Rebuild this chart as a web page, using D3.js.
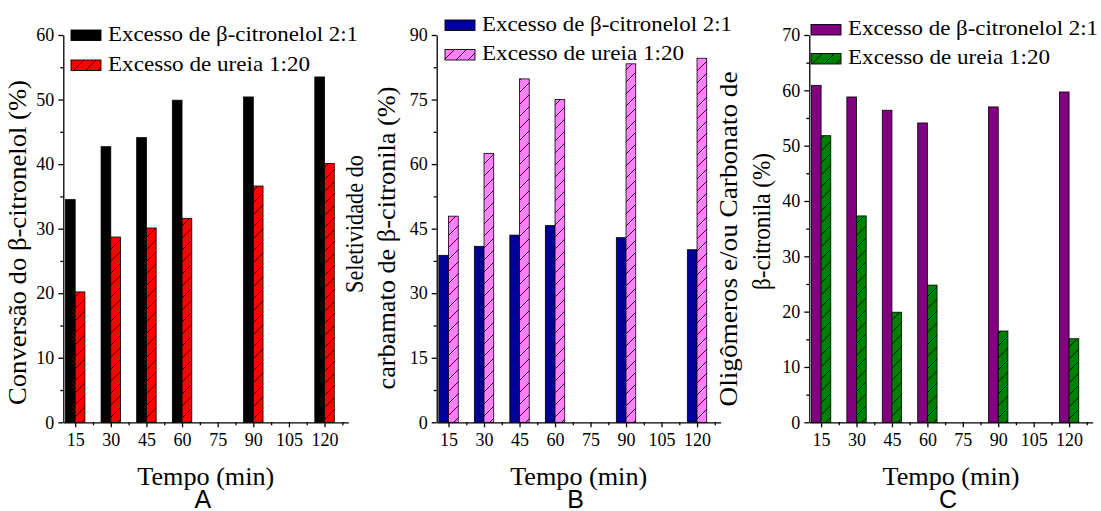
<!DOCTYPE html>
<html><head><meta charset="utf-8">
<script src="https://cdn.jsdelivr.net/npm/d3@7"></script>
<style>
body{margin:0;background:#fff;}
svg{display:block;}
text{font-family:"Liberation Serif","Times New Roman",serif;fill:#000;}
.axis path,.axis line{stroke:#000;stroke-width:1.3;}
.axis text{font-family:"Liberation Serif","Times New Roman",serif;font-size:18px;fill:#000;}
</style></head>
<body>
<svg id="chart" width="1101" height="511"></svg>
<script>
// ---- data ----
const times = [15, 30, 45, 60, 90, 120];
const xTickValues = [15, 30, 45, 60, 75, 90, 105, 120];
const seriesNames = ["Excesso de β-citronelol 2:1", "Excesso de ureia 1:20"];

const convCitronelol = [34.5, 42.7, 44.1, 49.9, 50.4, 53.5];
const convUreia      = [20.2, 28.7, 30.1, 31.6, 36.6, 40.1];

const selCitronelol  = [38.8, 40.9, 43.5, 45.7, 42.9, 40.1];
const selUreia       = [47.9, 62.5, 79.8, 75.0, 83.3, 84.6];

const oligCitronelol = [60.9, 58.8, 56.4, 54.1, 57.0, 59.7];
const oligUreia      = [51.8, 37.3, 19.9, 24.8, 16.5, 15.1];

const ticksA = [0, 10, 20, 30, 40, 50, 60];
const ticksB = [0, 15, 30, 45, 60, 75, 90];
const ticksC = [0, 10, 20, 30, 40, 50, 60, 70];

const SERIF = "'Liberation Serif', 'Times New Roman', Times, serif";
const svg = d3.select("#chart");
const defs = svg.append("defs");

function hatch(id, fill) {
  const p = defs.append("pattern").attr("id", id)
    .attr("patternUnits", "userSpaceOnUse").attr("width", 12).attr("height", 12);
  p.append("rect").attr("width", 12).attr("height", 12).attr("fill", fill);
  p.append("path").attr("d", "M-3,3 L3,-3 M0,12 L12,0 M9,15 L15,9")
    .attr("stroke", "#000").attr("stroke-width", 0.9);
}
hatch("hRed", "#ff0000");
hatch("hPink", "#ff80ff");
hatch("hGreen", "#008000");

const panels = [
  {x0: 63.3, x1: 348.3, max: 60, ticks: ticksA, minor: 5, s1: convCitronelol, s2: convUreia,
   c1: "#000000", c2: "url(#hRed)", letter: "A",
   legend: {sx: 71, y1: 30, y2: 60},
   titles: [{text: "Conversão do β-citronelol (%)", x: 26, y: 242.5, len: 325}]},
  {x0: 436.7, x1: 720.7, max: 90, ticks: ticksB, minor: 7.5, s1: selCitronelol, s2: selUreia,
   c1: "#000099", c2: "url(#hPink)", letter: "B",
   legend: {sx: 445, y1: 20, y2: 49.5},
   titles: [{text: "Seletividade do", x: 363, y: 224, len: 138},
            {text: "carbamato de β-citronila (%)", x: 395, y: 238, len: 303}]},
  {x0: 809.3, x1: 1092.7, max: 70, ticks: ticksC, minor: 5, s1: oligCitronelol, s2: oligUreia,
   c1: "#800080", c2: "url(#hGreen)", letter: "C",
   legend: {sx: 811, y1: 24.5, y2: 53.5},
   titles: [{text: "Oligômeros e/ou Carbonato de", x: 737, y: 239, len: 335},
            {text: "β-citronila (%)", x: 770, y: 221.5, len: 137}]}
];

const yTop = 35, yBot = 422.3, barW = 4.1;

panels.forEach(p => {
  const x = d3.scaleLinear().domain([10, 130]).range([p.x0, p.x1]);
  const y = d3.scaleLinear().domain([0, p.max]).range([yBot, yTop]);
  const g = svg.append("g");

  // bars
  g.selectAll(".b1").data(times).join("rect")
    .attr("x", (d) => x(d - barW)).attr("width", (d) => x(d) - x(d - barW))
    .attr("y", (d, i) => y(p.s1[i])).attr("height", (d, i) => y(0) - y(p.s1[i]))
    .attr("fill", p.c1).attr("stroke", "#000").attr("stroke-width", 0.8);
  g.selectAll(".b2").data(times).join("rect")
    .attr("x", (d) => x(d)).attr("width", (d) => x(d + barW) - x(d))
    .attr("y", (d, i) => y(p.s2[i])).attr("height", (d, i) => y(0) - y(p.s2[i]))
    .attr("fill", p.c2).attr("stroke", "#000").attr("stroke-width", 0.8);

  // minor ticks
  const minorY = d3.range(0, p.max + 0.001, p.minor).filter(v => !p.ticks.includes(v));
  g.append("g").attr("class", "axis").attr("transform", `translate(${p.x0},0)`)
    .call(d3.axisLeft(y).tickValues(minorY).tickSize(3).tickSizeOuter(0).tickFormat(""))
    .select("path").remove();
  const minorX = d3.range(22.5, 130, 15);
  g.append("g").attr("class", "axis").attr("transform", `translate(0,${yBot})`)
    .call(d3.axisBottom(x).tickValues(minorX).tickSize(3).tickSizeOuter(0).tickFormat(""))
    .select("path").remove();

  // main axes
  const ay = g.append("g").attr("class", "axis").attr("transform", `translate(${p.x0},0)`)
    .call(d3.axisLeft(y).tickValues(p.ticks).tickSize(5).tickSizeOuter(0).tickPadding(4).tickFormat(d3.format("d")));
  const ax = g.append("g").attr("class", "axis").attr("transform", `translate(0,${yBot})`)
    .call(d3.axisBottom(x).tickValues(xTickValues).tickSize(5).tickSizeOuter(0).tickPadding(6).tickFormat(d3.format("d")));
  [ay, ax].forEach(a => a.attr("font-family", SERIF).attr("font-size", 18)
    .selectAll("text").style("font-family", SERIF).style("font-size", "18px"));

  // axis titles
  g.append("text").attr("x", (p.x0 + p.x1) / 2).attr("y", 485)
    .attr("text-anchor", "middle").style("font-family", SERIF).attr("font-size", 26)
    .attr("textLength", 137).attr("lengthAdjust", "spacingAndGlyphs")
    .text("Tempo (min)");
  p.titles.forEach(t => {
    g.append("text").attr("transform", `translate(${t.x},${t.y}) rotate(-90)`)
      .attr("text-anchor", "middle").style("font-family", SERIF).attr("font-size", 25)
      .attr("textLength", t.len).attr("lengthAdjust", "spacingAndGlyphs")
      .text(t.text);
  });

  // panel letter
  g.append("text").attr("x", (p.x0 + p.x1) / 2 - 3).attr("y", 508)
    .attr("text-anchor", "middle").attr("font-size", 25)
    .style("font-family", "'Liberation Sans', Arial, sans-serif")
    .text(p.letter);

  // legend
  const L = p.legend;
  [[L.y1, p.c1, seriesNames[0], 250], [L.y2, p.c2, seriesNames[1], 202]].forEach(([yy, c, name, len]) => {
    g.append("rect").attr("x", L.sx).attr("y", yy).attr("width", 30).attr("height", 10.5)
      .attr("fill", c).attr("stroke", "#000").attr("stroke-width", 0.9);
    g.append("text").attr("x", L.sx + 37).attr("y", yy + 10.7).attr("font-size", 21)
      .style("font-family", SERIF)
      .attr("textLength", len).attr("lengthAdjust", "spacingAndGlyphs")
      .text(name);
  });
});
</script>
</body></html>
